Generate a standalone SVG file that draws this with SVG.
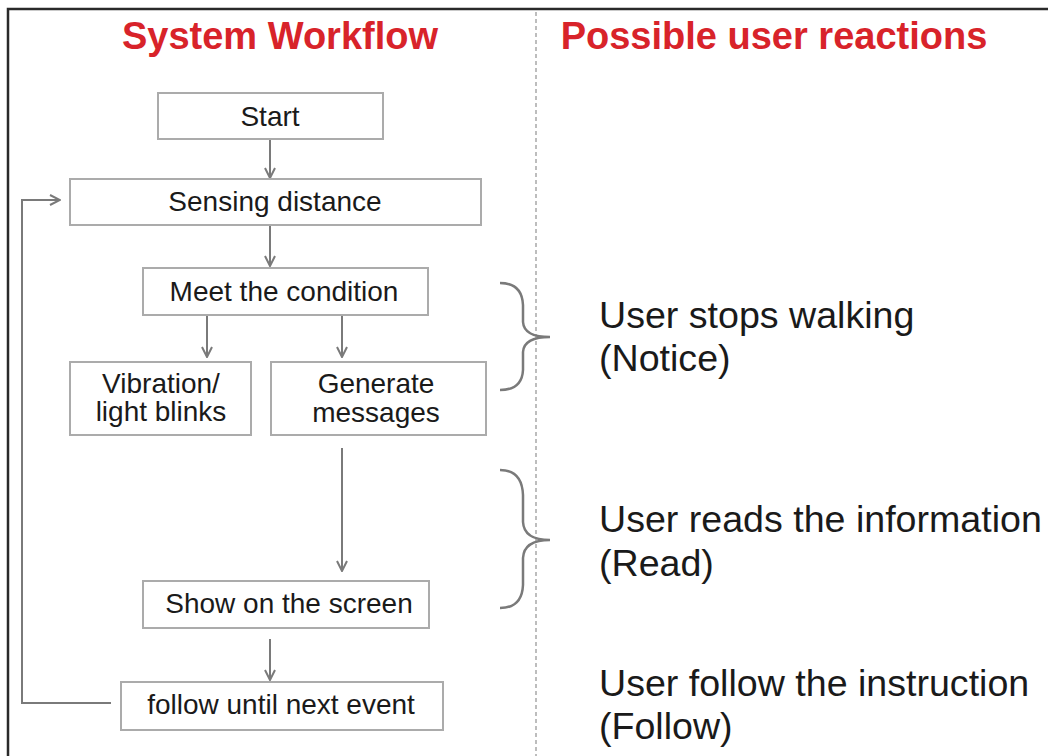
<svg xmlns="http://www.w3.org/2000/svg" width="1048" height="756" viewBox="0 0 1048 756">
<defs>
<style>
.title{font-family:"Liberation Sans",Arial,sans-serif;font-weight:bold;font-size:38px;fill:#d8232a;text-anchor:middle}
.box{fill:#fff;stroke:#ababab;stroke-width:2}
.lbl{font-family:"Liberation Sans",Arial,sans-serif;font-size:28px;fill:#1a1a1a;text-anchor:middle}
.rt{font-family:"Liberation Sans",Arial,sans-serif;font-size:37.6px;fill:#1a1a1a}
.conn{fill:none;stroke:#7a7a7a;stroke-width:2}
.brace{fill:none;stroke:#7a7a7a;stroke-width:2.5}
</style>
<marker id="ah" viewBox="0 0 12 12" refX="11" refY="6" markerWidth="12" markerHeight="12" markerUnits="userSpaceOnUse" orient="auto">
<path d="M1,1 L11,6 L1,11" fill="none" stroke="#7a7a7a" stroke-width="2"/>
</marker>
</defs>
<rect width="1048" height="756" fill="#fff"/>
<path d="M8,756 L8,9 L1048,9" fill="none" stroke="#2a2a2a" stroke-width="2.5"/>
<line x1="536" y1="12" x2="536" y2="756" stroke="#bdbdbd" stroke-width="2" stroke-dasharray="4 3"/>
<text class="title" x="280" y="49">System Workflow</text>
<text class="title" x="774" y="49">Possible user reactions</text>
<g id="connectors">
<line class="conn" x1="270" y1="139" x2="270" y2="178" marker-end="url(#ah)"/>
<line class="conn" x1="270" y1="225" x2="270" y2="266" marker-end="url(#ah)"/>
<line class="conn" x1="207" y1="315" x2="207" y2="357" marker-end="url(#ah)"/>
<line class="conn" x1="342" y1="315" x2="342" y2="357" marker-end="url(#ah)"/>
<line class="conn" x1="342" y1="448" x2="342" y2="571" marker-end="url(#ah)"/>
<line class="conn" x1="270" y1="639" x2="270" y2="680" marker-end="url(#ah)"/>
<path class="conn" d="M111,703 L22,703 L22,200 L60,200" marker-end="url(#ah)"/>
</g>
<g id="start"><rect class="box" x="158" y="93" width="225" height="46"/><text class="lbl" x="270" y="126">Start</text></g>
<g id="sensing"><rect class="box" x="70" y="179" width="411" height="46"/><text class="lbl" x="275" y="211">Sensing distance</text></g>
<g id="meet"><rect class="box" x="143" y="268" width="285" height="47"/><text class="lbl" x="284" y="301">Meet the condition</text></g>
<g id="vibration"><rect class="box" x="70" y="362" width="181" height="73"/><text class="lbl" x="161" y="393">Vibration/</text><text class="lbl" x="161" y="421">light blinks</text></g>
<g id="generate"><rect class="box" x="271" y="362" width="215" height="73"/><text class="lbl" x="376" y="393">Generate</text><text class="lbl" x="376" y="422">messages</text></g>
<g id="show"><rect class="box" x="143" y="581" width="286" height="47"/><text class="lbl" x="289" y="613">Show on the screen</text></g>
<g id="follow"><rect class="box" x="121" y="682" width="322" height="48"/><text class="lbl" x="281" y="714">follow until next event</text></g>
<g id="brace1"><path class="brace" d="M500,283 Q522,283 523,305 L523,322 Q524,337 550,337 Q524,337 523,352 L523,370 Q522,390 500,390"/></g>
<g id="brace2"><path class="brace" d="M500,470 Q522,470 523,495 L523,522 Q524,540 550,540 Q524,540 523,558 L523,585 Q522,608 500,608"/></g>
<g id="notice"><text class="rt" x="599" y="328">User stops walking</text><text class="rt" x="599" y="371">(Notice)</text></g>
<g id="read"><text class="rt" x="599" y="532">User reads the information</text><text class="rt" x="599" y="576">(Read)</text></g>
<g id="followr"><text class="rt" x="599" y="696">User follow the instruction</text><text class="rt" x="599" y="739">(Follow)</text></g>
</svg>
